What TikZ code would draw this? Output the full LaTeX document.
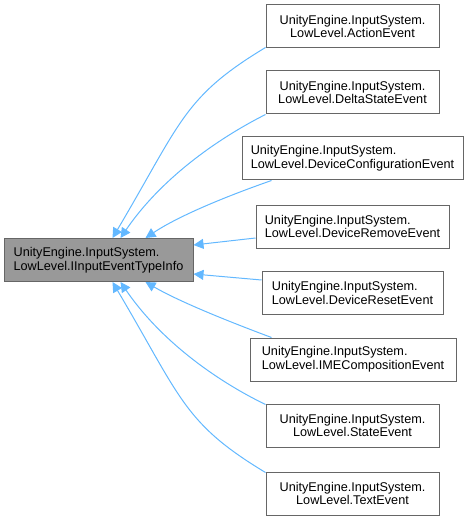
\documentclass[tikz,border=0pt]{standalone}
\usepackage{fontspec}
\setmainfont{Liberation Sans}
\usetikzlibrary{arrows.meta,calc}
\definecolor{edgeblue}{HTML}{63B8FF}
\definecolor{boxgray}{HTML}{999999}
\definecolor{boxline}{HTML}{666666}
\tikzset{
  cls/.style={draw=boxline, line width=0.75pt, fill=white, inner sep=0pt,
    minimum height=32.25pt, font=\fontsize{9.5pt}{10.2pt}\selectfont},
  basecls/.style={cls, fill=boxgray},
  inh/.style={draw=edgeblue, line width=0.75pt,
    {Triangle[length=7.5pt,width=7.5pt,fill=edgeblue]}-}
}
\begin{document}
\begin{tikzpicture}[x=0.75pt,y=-0.75pt]
\useasboundingbox (0,0) rectangle (469,520);
% base node
\node[basecls, minimum width=141.75pt, align=left] (base) at (98.5,260)
  {UnityEngine.InputSystem.\\LowLevel.IInputEventTypeInfo};
% derived nodes
\node[cls, minimum width=129.75pt, align=center] (action) at (352.5,26.5)
  {UnityEngine.InputSystem.\\LowLevel.ActionEvent};
\node[cls, minimum width=129.75pt, align=center] (delta) at (352.5,92.5)
  {UnityEngine.InputSystem.\\LowLevel.DeltaStateEvent};
\node[cls, minimum width=165.75pt, align=left] (devconf) at (352.5,158.5)
  {UnityEngine.InputSystem.\\LowLevel.DeviceConfigurationEvent};
\node[cls, minimum width=144.75pt, align=left] (devrem) at (352.5,226.5)
  {UnityEngine.InputSystem.\\LowLevel.DeviceRemoveEvent};
\node[cls, minimum width=135.75pt, align=left] (devreset) at (352.5,293)
  {UnityEngine.InputSystem.\\LowLevel.DeviceResetEvent};
\node[cls, minimum width=154.5pt, align=left] (ime) at (353,359.5)
  {UnityEngine.InputSystem.\\LowLevel.IMECompositionEvent};
\node[cls, minimum width=129.75pt, align=center] (state) at (352.5,425.5)
  {UnityEngine.InputSystem.\\LowLevel.StateEvent};
\node[cls, minimum width=129.75pt, align=center] (text) at (352.5,493.5)
  {UnityEngine.InputSystem.\\LowLevel.TextEvent};
% edges
\draw[inh] ($(base.north)+(14,0)$) .. controls (181.4,121.6) and (183.5,97) .. ($(action.south west)+(0,-1)$);
\draw[inh] ($(base.north)+(22,0)$) .. controls (160,180) and (215,140) .. ($(delta.south west)+(0,0)$);
\draw[inh] ($(base.north)+(47,0)$) .. controls (180,215) and (230,195) .. ($(devconf.south west)+(30,0)$);
\draw[inh] ($(base.east)+(0,-15)$) -- ($(devrem.west)+(0,11.5)$);
\draw[inh] ($(base.east)+(0,14)$) -- ($(devreset.west)+(0,-13)$);
\draw[inh] ($(base.south)+(47,0)$) .. controls (180,302) and (230,322) .. ($(ime.north west)+(22,0)$);
\draw[inh] ($(base.south)+(22,0)$) .. controls (160,340) and (215,380) .. ($(state.north west)+(0,1)$);
\draw[inh] ($(base.south)+(14,0)$) .. controls (181.4,398.4) and (183.5,423) .. ($(text.north west)+(0,1)$);
\end{tikzpicture}
\end{document}
